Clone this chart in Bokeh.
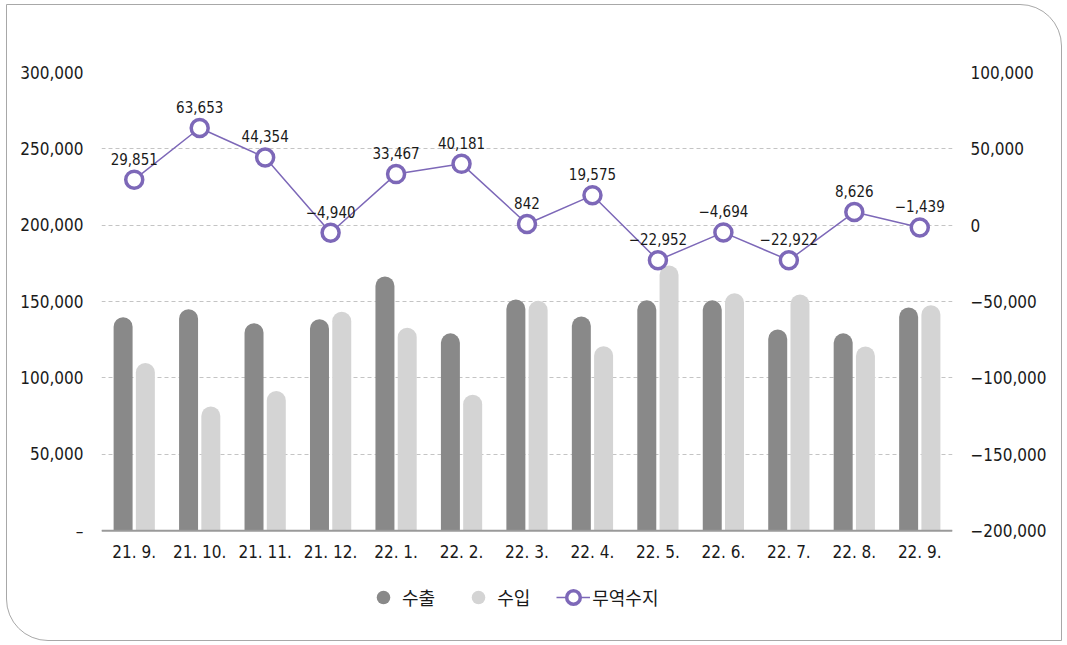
from bokeh.plotting import figure
from bokeh.models import (ColumnDataSource, FactorRange, Range1d, LinearAxis, FixedTicker,
                          CustomJSTickFormatter, Legend, LegendItem, Span)
from bokeh.transform import dodge
from bokeh.core.properties import value
from bokeh.embed import file_html
from bokeh.resources import INLINE

months = ["21. 9.", "21. 10.", "21. 11.", "21. 12.", "22. 1.", "22. 2.", "22. 3.",
          "22. 4.", "22. 5.", "22. 6.", "22. 7.", "22. 8.", "22. 9."]
exports = [139700, 145000, 135800, 138400, 166400, 129200, 151400, 140300, 150800,
           150800, 131800, 129200, 146200]
imports = [109800, 81300, 91400, 143300, 132900, 89000, 150600, 120700, 173700,
           155500, 154700, 120600, 147600]
balance = [29851, 63653, 44354, -4940, 33467, 40181, 842, 19575, -22952, -4694,
           -22922, 8626, -1439]
left_ticks = [0, 50000, 100000, 150000, 200000, 250000, 300000]
right_ticks = [-200000, -150000, -100000, -50000, 0, 50000, 100000]

labels = [("−" if b < 0 else "") + f"{abs(b):,}" for b in balance]

src = ColumnDataSource(dict(m=months, ex=exports, im=imports, bal=balance, lab=labels))

FONT = "DejaVu Sans Condensed"
KFONT = "Noto Sans CJK KR"
DARK = "#898989"
LIGHT = "#d4d4d4"
PURPLE = "#7d68b8"

# the frame extends 100px below the zero line to host category labels and legend
DATA_PX = 459
EXTRA_PX = 100
pad_left = 300000 * EXTRA_PX / DATA_PX
pad_right = 300000 * EXTRA_PX / DATA_PX

p = figure(width=1056, height=637, x_range=FactorRange(*months, range_padding=0),
           y_range=Range1d(-pad_left, 300000), output_backend="svg", toolbar_location=None,
           min_border_left=94, min_border_right=111, min_border_top=67, min_border_bottom=12)
p.extra_y_ranges = {"right": Range1d(-200000 - pad_right, 100000)}
p.styles = {"border": "1.5px solid #a8a8a8", "border-radius": "0px 42px 0px 42px",
            "margin-left": "6px", "margin-top": "4px"}
p.border_fill_color = None
p.background_fill_color = None
p.outline_line_color = None

p.xgrid.grid_line_color = None
p.ygrid.grid_line_color = "#c4c4c4"
p.ygrid.grid_line_dash = "4 3"
p.ygrid.grid_line_width = 1

p.vbar(x=dodge("m", -0.17, range=p.x_range), top="ex", bottom=0, width=0.29, source=src,
       fill_color=DARK, line_color=None, border_radius=[10, 10, 0, 0])
p.vbar(x=dodge("m", 0.17, range=p.x_range), top="im", bottom=0, width=0.29, source=src,
       fill_color=LIGHT, line_color=None, border_radius=[10, 10, 0, 0])

# category axis: baseline and labels
p.add_layout(Span(location=0, dimension="width", line_color="#9a9a9a", line_width=2))
p.text(x="m", y=0, text="m", source=src, y_offset=11, text_align="center",
       text_baseline="top", text_font=value(FONT), text_font_size="17px",
       text_color="#1a1a1a")

ln = p.line(x="m", y="bal", source=src, y_range_name="right", line_color=PURPLE, line_width=1.5)
mk = p.scatter(x="m", y="bal", source=src, y_range_name="right", marker="circle", size=17,
               fill_color="white", line_color=PURPLE, line_width=3.5)
p.text(x="m", y="bal", text="lab", source=src, y_range_name="right", y_offset=-15,
       text_align="center", text_baseline="bottom", text_font=value(FONT),
       text_font_size="15px", text_color="#1a1a1a")

# legend proxies (zero-size markers, only drawn in the legend)
lg_ex = p.scatter(x=dodge("m", -0.17, range=p.x_range), y="ex", source=src, marker="circle",
                  size=0, fill_color=DARK, line_color=None)
lg_im = p.scatter(x=dodge("m", 0.17, range=p.x_range), y="im", source=src, marker="circle",
                  size=0, fill_color=LIGHT, line_color=None)

p.xaxis.visible = False
p.yaxis.ticker = FixedTicker(ticks=left_ticks)
p.yaxis.formatter = CustomJSTickFormatter(code="return tick == 0 ? '–' : tick.toLocaleString('en-US');")
ra = LinearAxis(y_range_name="right", ticker=FixedTicker(ticks=right_ticks),
                formatter=CustomJSTickFormatter(code="return (tick < 0 ? '−' : '') + Math.abs(tick).toLocaleString('en-US');"))
p.add_layout(ra, "right")

for ax in [p.yaxis[0], ra]:
    ax.axis_line_color = None
    ax.major_tick_line_color = None
    ax.minor_tick_line_color = None
    ax.major_label_text_font = FONT
    ax.major_label_text_font_size = "17px"
    ax.major_label_text_color = "#1a1a1a"
    ax.major_label_standoff = 12

legend = Legend(items=[LegendItem(label="수출", renderers=[lg_ex]),
                       LegendItem(label="수입", renderers=[lg_im]),
                       LegendItem(label="무역수지", renderers=[ln, mk])],
                orientation="horizontal", location=(265, 15))
legend.label_text_font = KFONT
legend.label_text_font_size = "18px"
legend.label_text_color = "#1a1a1a"
legend.border_line_color = None
legend.background_fill_color = None
legend.spacing = 26
legend.glyph_width = 34
legend.glyph_height = 36
legend.label_standoff = 2
legend.padding = 4
legend.margin = 0
p.add_layout(legend, "center")

open("out.html", "w").write(file_html(p, INLINE))
